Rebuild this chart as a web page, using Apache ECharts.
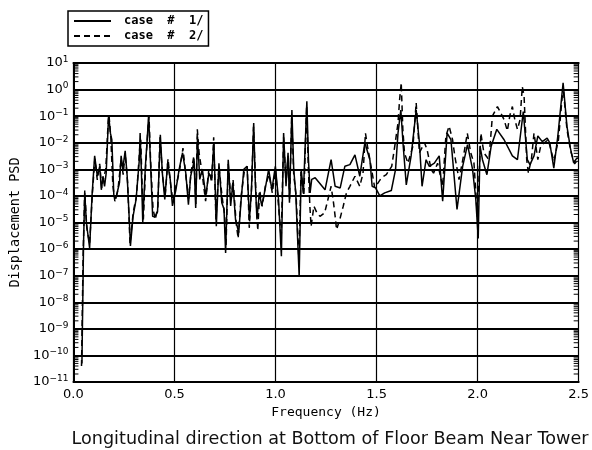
<!DOCTYPE html>
<html>
<head>
<meta charset="utf-8">
<script src="https://cdn.jsdelivr.net/npm/echarts@6/dist/echarts.min.js"></script>
<style>
  html, body { margin: 0; padding: 0; background: #fff; }
  #main { width: 592px; height: 450px; }
</style>
</head>
<body>
<div id="main"></div>
<script>
// case # 1/ (solid)
const freq1 = [0.042, 0.050, 0.056, 0.064, 0.080, 0.092, 0.105, 0.118, 0.130, 0.138, 0.146, 0.154, 0.162, 0.174, 0.183, 0.190,
  0.200, 0.210, 0.228, 0.236, 0.244, 0.256, 0.266, 0.277, 0.282, 0.295, 0.310, 0.326, 0.330, 0.337, 0.343, 0.356, 0.365,
  0.372, 0.380, 0.392, 0.403, 0.416, 0.430, 0.440, 0.452, 0.466, 0.479, 0.490, 0.507, 0.523, 0.540, 0.556, 0.569, 0.580,
  0.597, 0.605, 0.614, 0.625, 0.638, 0.655, 0.670, 0.684, 0.695, 0.707, 0.720, 0.734, 0.745, 0.753, 0.766, 0.778, 0.789,
  0.802, 0.818, 0.830, 0.843, 0.859, 0.871, 0.881, 0.892, 0.900, 0.908, 0.920, 0.932, 0.948, 0.966, 0.982, 0.999, 1.015,
  1.029, 1.040, 1.052, 1.062, 1.069, 1.081, 1.090, 1.100, 1.117, 1.127, 1.138, 1.155, 1.163, 1.171, 1.179, 1.196, 1.245,
  1.275, 1.295, 1.320, 1.343, 1.368, 1.393, 1.417, 1.442, 1.467, 1.478, 1.495, 1.516, 1.540, 1.573, 1.594, 1.606, 1.620,
  1.632, 1.647, 1.671, 1.696, 1.712, 1.725, 1.745, 1.761, 1.786, 1.810, 1.827, 1.849, 1.868, 1.898, 1.926, 1.950, 1.975,
  1.991, 2.003, 2.012, 2.024, 2.046, 2.067, 2.095, 2.131, 2.172, 2.197, 2.226, 2.246, 2.259, 2.279, 2.298, 2.320, 2.344,
  2.357, 2.377, 2.397, 2.423, 2.442, 2.459, 2.475, 2.492, 2.500];
const psd1 = [5e-11, 1.6e-6, 1.3e-4, 1e-5, 1.1e-6, 1e-4, 3.2e-3, 5.5e-4, 1.3e-3, 1.7e-4, 5.5e-4, 2.3e-4, 7.2e-4, 1.1e-1, 2.3e-2, 1.3e-2,
  1e-4, 8e-5, 3.2e-4, 3.2e-3, 1e-3, 5e-3, 5.5e-4, 1e-5, 1.3e-6, 1.7e-5, 7.4e-5, 2.3e-3, 2.3e-2, 5.5e-4, 1e-5, 1.3e-3, 1.3e-2,
  1.1e-1, 3.2e-3, 1.7e-5, 1.6e-5, 2.5e-5, 2e-2, 7.2e-4, 7.4e-5, 1.7e-3, 4.2e-4, 4.2e-5, 1.7e-4, 1e-3, 4.2e-3, 7.2e-4, 4.7e-5, 5.5e-4,
  2e-3, 3.5e-5, 1.7e-2, 4.2e-4, 1e-3, 1e-4, 7.2e-4, 4.7e-4, 1e-2, 7.2e-6, 1.7e-3, 5.5e-5, 3.2e-5, 7.2e-7, 2.3e-3, 4.2e-5, 3.2e-4,
  1.3e-5, 4.1e-6, 7.4e-5, 1e-3, 1.3e-3, 1.3e-5, 1.7e-4, 5.5e-2, 3.2e-4, 1.3e-5, 1.3e-4, 4.2e-5, 1.7e-4, 1e-3, 1.7e-4, 1.3e-3, 7.2e-5,
  5.4e-7, 2.3e-2, 2.3e-4, 4.2e-3, 5.5e-5, 1.7e-1, 1e-3, 1.3e-4, 9.5e-8, 1e-3, 1.3e-4, 3.6e-1, 2.3e-3, 1.3e-4, 4.2e-4, 4.8e-4, 1.7e-4,
  2.3e-3, 2.3e-4, 2e-4, 1.3e-3, 1.5e-3, 3.5e-3, 5.5e-4, 1e-2, 2.3e-3, 2.3e-4, 2e-4, 1e-4, 1.3e-4, 1.6e-4, 1e-3, 2.3e-2, 1.7e-1,
  7.2e-3, 2.6e-4, 3.2e-3, 1.7e-1, 1e-2, 2.3e-4, 2.3e-3, 1.3e-3, 1.7e-3, 3.2e-3, 6.3e-5, 2.3e-2, 1.3e-2, 3.1e-5, 1.3e-3, 8.5e-3, 1e-3,
  7.4e-5, 2.5e-6, 7.4e-3, 2.3e-3, 6.3e-4, 7.4e-3, 3.2e-2, 1.3e-2, 3.2e-3, 2.3e-3, 1.5e-1, 2.3e-3, 1.5e-3, 3.2e-3, 1.8e-2, 1.1e-2, 1.5e-2,
  1e-2, 1.1e-3, 1.8e-2, 1.8, 4.2e-2, 6.3e-3, 1.8e-3, 2.7e-3, 2.5e-3];

// case # 2/ (dashed)
const freq2 = [0.040, 0.048, 0.056, 0.066, 0.080, 0.094, 0.106, 0.118, 0.130, 0.140, 0.150, 0.160, 0.172, 0.176, 0.185, 0.195,
  0.205, 0.220, 0.236, 0.246, 0.256, 0.268, 0.280, 0.296, 0.312, 0.328, 0.333, 0.340, 0.346, 0.358, 0.368, 0.374, 0.382,
  0.394, 0.405, 0.418, 0.428, 0.442, 0.454, 0.468, 0.480, 0.492, 0.508, 0.524, 0.542, 0.557, 0.570, 0.582, 0.596, 0.606,
  0.613, 0.622, 0.636, 0.654, 0.670, 0.684, 0.694, 0.705, 0.720, 0.735, 0.748, 0.755, 0.766, 0.780, 0.790, 0.805, 0.815,
  0.830, 0.845, 0.860, 0.870, 0.882, 0.891, 0.902, 0.912, 0.922, 0.934, 0.950, 0.968, 0.984, 1.000, 1.016, 1.028, 1.040,
  1.052, 1.062, 1.070, 1.080, 1.090, 1.102, 1.116, 1.126, 1.140, 1.154, 1.162, 1.170, 1.176, 1.190, 1.205, 1.220, 1.243,
  1.259, 1.275, 1.287, 1.295, 1.302, 1.318, 1.335, 1.351, 1.368, 1.393, 1.417, 1.433, 1.445, 1.455, 1.467, 1.491, 1.524,
  1.548, 1.575, 1.590, 1.606, 1.614, 1.622, 1.630, 1.638, 1.655, 1.680, 1.696, 1.712, 1.737, 1.750, 1.770, 1.782, 1.802,
  1.827, 1.843, 1.859, 1.876, 1.887, 1.908, 1.933, 1.949, 1.966, 1.982, 1.999, 2.016, 2.031, 2.056, 2.073, 2.098, 2.115,
  2.131, 2.147, 2.160, 2.172, 2.184, 2.197, 2.210, 2.221, 2.230, 2.243, 2.251, 2.266, 2.279, 2.298, 2.312, 2.330, 2.350,
  2.377, 2.400, 2.423, 2.442, 2.460, 2.480, 2.500];
const psd2 = [4e-11, 6.3e-7, 1.6e-4, 6.3e-6, 1.6e-6, 1.3e-4, 2.5e-3, 4e-4, 1.6e-3, 2e-4, 5e-4, 1e-3, 6.3e-2, 1.1e-1, 1.6e-2, 2.5e-4,
  6.3e-5, 1.6e-4, 2.5e-3, 6.3e-4, 4e-3, 3.2e-4, 1.6e-6, 2.5e-5, 1e-4, 6.3e-3, 1.3e-2, 2.5e-4, 1.3e-5, 1.6e-3, 3.2e-2, 1e-1, 2e-3,
  3.2e-5, 1.3e-5, 4e-5, 1.6e-2, 5e-4, 1e-4, 2.5e-3, 3.2e-4, 6.3e-5, 2.5e-4, 7.9e-4, 6.3e-3, 5e-4, 7.9e-5, 7.9e-4, 3.2e-3, 5e-5,
  3.2e-2, 4e-3, 7.9e-4, 6.3e-5, 1e-3, 3.2e-4, 1.6e-2, 1.3e-5, 1.3e-3, 1e-4, 2e-5, 1.3e-6, 1.6e-3, 6.3e-5, 4e-4, 1e-5, 2.5e-6,
  1e-4, 7.9e-4, 1.3e-3, 6.3e-6, 2.5e-4, 4e-2, 2e-4, 5e-6, 1.6e-4, 4e-5, 2.5e-4, 6.3e-4, 1.3e-4, 1e-3, 3.2e-5, 2.5e-6, 1.6e-2,
  3.2e-4, 3.2e-3, 7.9e-5, 1e-1, 6.3e-4, 1e-4, 3.2e-7, 7.9e-4, 1e-4, 2.5e-1, 1.3e-3, 4e-5, 7.2e-6, 4.1e-5, 2.3e-5, 1.7e-5, 2.3e-5,
  7.2e-5, 2.3e-4, 5.5e-5, 1.7e-5, 5.4e-6, 1.3e-5, 4.1e-5, 1.3e-4, 2.3e-4, 5.5e-4, 2.3e-4, 7.2e-4, 2.3e-2, 7.4e-3, 2.3e-3, 2e-4, 4.8e-4,
  6.3e-4, 1.3e-3, 7.4e-3, 5.5e-2, 4.2e-1, 1.8, 3.2e-2, 4.2e-3, 1.7e-3, 7.4e-3, 3.2e-1, 4.2e-3, 1e-2, 5.5e-3, 1e-3, 7.2e-4, 1.7e-3,
  2.3e-4, 1.8e-2, 4.2e-2, 1.3e-2, 3.2e-3, 4.1e-4, 4.2e-3, 2.3e-2, 4.2e-3, 1.7e-3, 1.6e-5, 2.3e-2, 4.2e-3, 2.3e-3, 1e-1, 2.3e-1, 1.3e-1,
  7.4e-2, 2.8e-2, 1.1e-1, 2.3e-1, 7.4e-2, 3.2e-2, 7.4e-2, 1.3, 5.6e-1, 2.3e-3, 7.4e-4, 2.3e-3, 2.3e-2, 2.3e-3, 7.4e-3, 1e-2, 1.3e-2,
  2e-3, 1.3e-2, 1.3, 3.2e-2, 5e-3, 1.6e-3, 2.5e-3];

const xTickLabels = ['0.0', '0.5', '1.0', '1.5', '2.0', '2.5'];
const decades = [-11, -10, -9, -8, -7, -6, -5, -4, -3, -2, -1, 0];
const mantissas = [2, 3, 4, 5, 6, 7, 8, 9];

// little inside ticks of the log axis, left and right border
const minorTicks = [];
decades.forEach(d => mantissas.forEach(m => minorTicks.push([0, m * Math.pow(10, d)])));

const chart = echarts.init(document.getElementById('main'));

const supLabel = v => {
  const e = Math.round(Math.log10(v));
  return '{b|10}{s|' + (e < 0 ? '\u2212' + (-e) : e) + '}';
};

chart.setOption({
  animation: false,
  backgroundColor: '#fff',
  title: {
    text: 'Longitudinal direction at Bottom of Floor Beam Near Tower',
    left: 325, textAlign: 'center', top: 425,
    textStyle: { fontFamily: 'DejaVu Sans', fontSize: 17.6, fontWeight: 'normal', color: '#111' }
  },
  legend: {
    orient: 'vertical',
    left: 68, top: 11,
    padding: [4, 5, 4, 5],
    itemWidth: 37, itemHeight: 10, itemGap: 3,
    borderColor: '#000', borderWidth: 1.5, borderRadius: 0,
    itemStyle: { opacity: 0 },
    formatter: n => n.replace(/ /g, '  '),
    textStyle: { fontFamily: 'DejaVu Sans Mono', fontSize: 12, fontWeight: 'bold', color: '#000', padding: [0, 0, 0, 8] },
    data: ['case # 1/', 'case # 2/']
  },
  grid: { left: 72, right: 12, top: 63, bottom: 68, show: false },
  xAxis: [{
    type: 'value', min: 0, max: 2.5, interval: 0.5,
    name: 'Frequency (Hz)', nameLocation: 'middle', nameGap: 22,
    nameTextStyle: { fontFamily: 'DejaVu Sans Mono', fontSize: 13, color: '#000' },
    axisLine: { lineStyle: { color: '#000', width: 2 } },
    axisTick: { show: false },
    axisLabel: {
      fontFamily: 'DejaVu Sans', fontSize: 13, color: '#000', margin: 6,
      formatter: (v, i) => xTickLabels[i]
    },
    splitLine: { lineStyle: { color: '#000', width: 1.2 } }
  }, {
    type: 'value', position: 'top', min: 0, max: 2.5, interval: 0.5,
    axisLine: { lineStyle: { color: '#000', width: 2 } },
    axisTick: { show: false }, axisLabel: { show: false }, splitLine: { show: false }
  }],
  yAxis: [{
    type: 'log', logBase: 10, min: 1e-11, max: 10, interval: 1, splitNumber: 12,
    name: 'Displacement PSD', nameLocation: 'middle', nameGap: 46,
    nameTextStyle: { fontFamily: 'DejaVu Sans Mono', fontSize: 13.5, color: '#000' },
    axisLine: { show: true, lineStyle: { color: '#000', width: 2 } },
    axisTick: { show: false },
    axisLabel: {
      margin: 5, formatter: supLabel,
      rich: {
        b: { fontFamily: 'DejaVu Sans', fontSize: 13, color: '#000' },
        s: { fontFamily: 'DejaVu Sans', fontSize: 9, color: '#000', verticalAlign: 'top', padding: [0, 0, 7, 0] }
      }
    },
    splitLine: { lineStyle: { color: '#000', width: 2 } }
  }, {
    type: 'log', logBase: 10, min: 1e-11, max: 10, position: 'right',
    axisLine: { show: true, lineStyle: { color: '#000', width: 2 } },
    axisTick: { show: false }, axisLabel: { show: false }, splitLine: { show: false }
  }],
  series: [{
    name: 'case # 1/', type: 'line', symbol: 'none',
    data: freq1.map((f, i) => [f, psd1[i]]),
    lineStyle: { color: '#000', width: 1.5 },
    itemStyle: { color: '#000' }
  }, {
    name: 'case # 2/', type: 'line', symbol: 'none',
    data: freq2.map((f, i) => [f, psd2[i]]),
    lineStyle: { color: '#000', width: 1.5, type: [6, 4] },
    itemStyle: { color: '#000' }
  }, {
    type: 'custom', silent: true,
    data: minorTicks,
    encode: { x: 0, y: 1 },
    renderItem: (params, api) => {
      const l = api.coord([0, api.value(1)]);
      const r = api.coord([2.5, api.value(1)]);
      return {
        type: 'group',
        children: [
          { type: 'line', shape: { x1: l[0], y1: l[1], x2: l[0] + 5, y2: l[1] }, style: { stroke: '#000', lineWidth: 1 } },
          { type: 'line', shape: { x1: r[0] - 5, y1: r[1], x2: r[0], y2: r[1] }, style: { stroke: '#000', lineWidth: 1 } }
        ]
      };
    }
  }]
});
</script>
</body>
</html>
